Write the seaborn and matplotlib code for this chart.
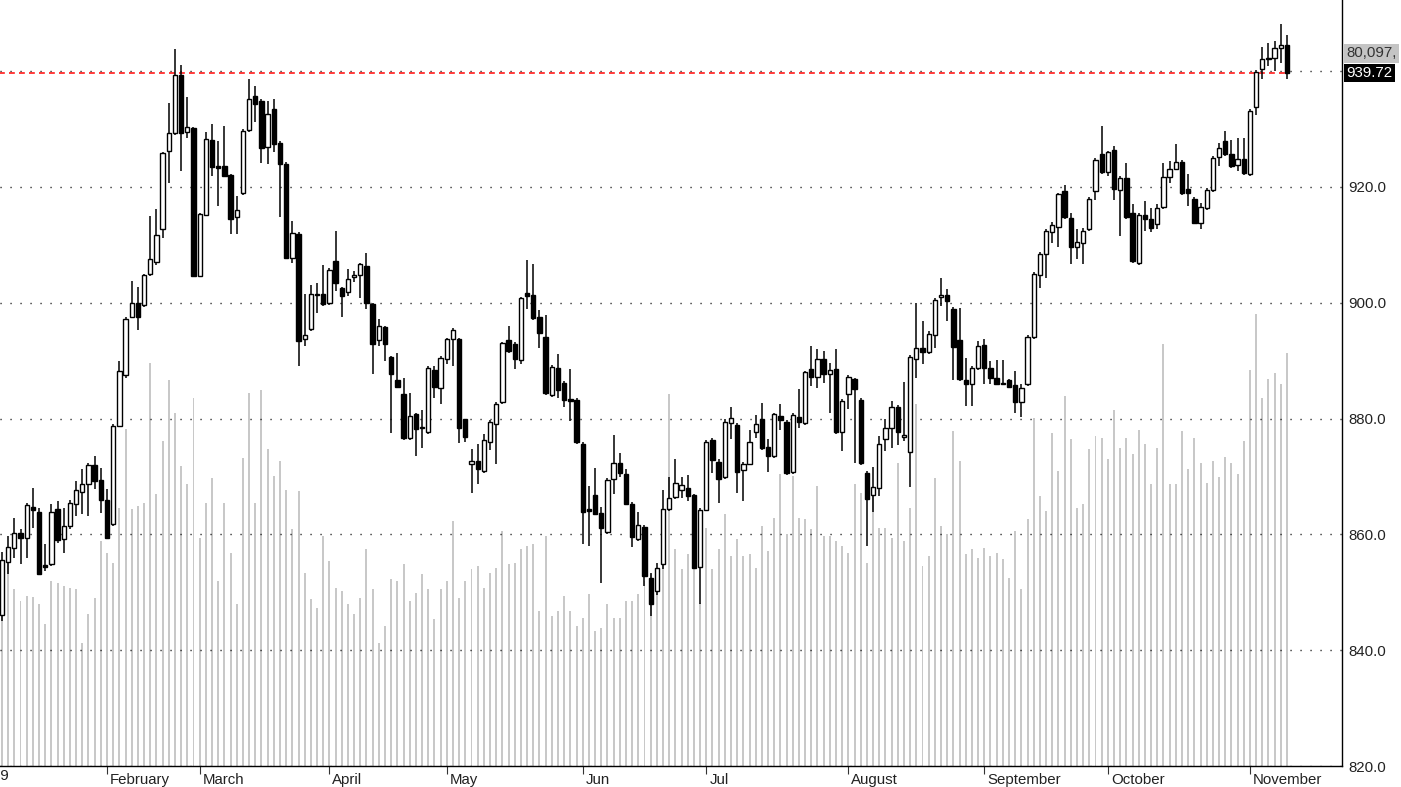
import numpy as np
import pandas as pd
import matplotlib
matplotlib.use("Agg")
import matplotlib.pyplot as plt
import matplotlib.transforms as mtransforms
import seaborn as sns

## daily prices
opens = [846.0, 855.2, 857.6, 860.2, 859.4, 864.7, 863.9, 854.7, 854.9, 864.4,
         859.2, 861.4, 865.3, 867.3, 868.7, 872.0, 869.4, 865.9, 861.8, 878.7,
         887.5, 897.6, 900.0, 899.6, 905.0, 907.0, 912.7, 926.2, 929.3, 939.3,
         929.5, 930.2, 904.6, 915.2, 928.1, 923.6, 923.6, 922.0, 914.8, 919.0,
         929.8, 935.7, 934.9, 926.9, 933.5, 927.6, 924.0, 907.7, 911.9, 893.7,
         895.5, 901.5, 901.5, 900.0, 907.2, 902.6, 901.9, 904.5, 904.8, 906.4,
         899.8, 893.6, 895.8, 890.6, 886.7, 884.2, 876.6, 880.8, 878.3, 877.7,
         888.4, 885.3, 890.3, 893.7, 893.7, 879.9, 872.2, 872.7, 870.9, 876.0,
         879.1, 882.9, 893.6, 892.9, 890.1, 901.7, 901.3, 897.5, 894.1, 884.1,
         888.7, 886.1, 883.4, 883.2, 875.6, 864.4, 866.8, 863.7, 860.4, 869.6,
         872.3, 870.4, 865.3, 859.2, 861.3, 852.5, 850.2, 854.9, 864.4, 866.5,
         867.7, 868.0, 866.8, 854.4, 864.2, 876.3, 872.5, 869.9, 879.2, 878.9,
         871.1, 872.2, 877.7, 879.9, 875.1, 873.5, 880.4, 879.4, 870.8, 880.3,
         879.2, 888.6, 887.2, 890.3, 887.7, 888.6, 877.7, 884.2, 886.8, 883.2,
         870.6, 866.8, 868.0, 876.5, 878.4, 882.0, 876.8, 874.2, 890.3, 892.2,
         891.5, 894.4, 901.0, 901.3, 898.9, 893.6, 886.7, 886.0, 888.7, 892.7,
         888.7, 887.0, 886.1, 886.7, 885.8, 882.9, 886.0, 894.1, 904.8, 908.4,
         912.2, 913.1, 919.3, 914.6, 909.6, 910.3, 912.7, 919.3, 925.7, 922.6,
         926.4, 919.5, 921.6, 915.5, 906.9, 915.2, 914.5, 913.6, 916.5, 921.7,
         923.1, 924.3, 919.7, 917.9, 913.8, 916.4, 919.5, 925.2, 928.0, 925.7,
         923.8, 924.8, 922.2, 933.8, 940.4, 942.1, 942.3, 944.0, 944.5]
highs = [857.0, 859.7, 862.8, 860.9, 865.5, 868.0, 864.5, 858.3, 865.3, 865.8,
         864.5, 866.0, 869.2, 871.3, 872.3, 873.5, 871.5, 867.8, 879.0, 890.0,
         897.5, 903.8, 902.7, 905.0, 915.0, 916.2, 926.0, 934.5, 943.8, 941.0,
         935.5, 930.4, 915.5, 929.5, 930.8, 928.0, 930.5, 922.3, 918.4, 930.0,
         938.7, 937.4, 935.2, 934.9, 935.2, 928.0, 924.3, 914.2, 912.2, 901.5,
         903.0, 903.4, 906.5, 906.0, 912.4, 902.8, 905.8, 905.5, 906.9, 908.6,
         900.0, 897.2, 896.0, 890.8, 891.3, 887.0, 884.4, 881.0, 881.5, 889.0,
         889.0, 890.8, 894.0, 895.6, 894.0, 880.0, 874.7, 875.6, 877.3, 879.7,
         882.8, 893.3, 896.0, 893.2, 901.0, 907.4, 906.7, 898.8, 897.9, 889.2,
         891.2, 886.5, 888.6, 883.6, 875.9, 868.4, 871.5, 864.7, 869.7, 877.2,
         874.0, 871.3, 865.6, 863.9, 861.6, 853.3, 855.0, 867.7, 869.9, 873.0,
         869.9, 870.3, 867.0, 864.5, 876.3, 876.6, 873.0, 880.0, 882.0, 879.2,
         872.5, 878.0, 880.6, 882.7, 876.5, 881.0, 882.5, 879.7, 880.9, 885.1,
         888.3, 892.5, 892.0, 891.7, 889.6, 892.0, 883.3, 887.5, 887.0, 883.5,
         870.9, 871.7, 877.0, 880.0, 883.0, 882.3, 886.3, 891.0, 900.0, 896.9,
         895.2, 900.8, 904.3, 902.4, 899.2, 899.1, 890.5, 889.0, 893.4, 893.7,
         890.0, 890.2, 890.2, 886.8, 888.2, 886.0, 894.4, 905.3, 908.7, 912.8,
         914.0, 919.0, 920.3, 915.5, 912.8, 913.0, 918.2, 925.0, 930.5, 926.3,
         927.1, 921.9, 924.1, 917.0, 915.5, 917.6, 916.4, 917.0, 924.1, 924.5,
         927.4, 924.6, 922.2, 918.2, 917.2, 919.8, 925.3, 927.6, 929.7, 928.1,
         928.5, 928.5, 933.4, 940.2, 944.2, 944.9, 945.2, 948.2, 946.2]
lows = [845.0, 853.2, 856.0, 854.9, 856.0, 861.1, 853.0, 853.7, 854.5, 858.5,
        856.8, 861.0, 863.2, 863.5, 863.2, 867.8, 863.7, 859.2, 861.5, 878.5,
        887.0, 897.3, 895.3, 899.3, 904.7, 906.5, 911.2, 920.7, 929.0, 922.8,
        928.5, 904.4, 904.4, 915.0, 921.9, 916.7, 921.7, 911.9, 911.9, 918.7,
        929.5, 931.2, 924.1, 924.0, 926.0, 914.8, 907.5, 906.9, 889.1, 892.5,
        895.2, 898.2, 899.5, 899.7, 902.0, 897.5, 901.2, 903.6, 900.8, 898.9,
        887.7, 892.5, 890.0, 877.5, 885.3, 876.3, 876.3, 873.5, 874.9, 877.4,
        883.6, 882.5, 889.4, 889.0, 875.8, 876.0, 867.1, 868.7, 870.6, 874.6,
        872.2, 882.6, 891.4, 888.6, 889.5, 899.0, 897.0, 892.2, 884.1, 883.8,
        883.6, 882.0, 879.6, 875.6, 858.3, 858.0, 863.3, 851.6, 860.1, 867.0,
        870.0, 865.0, 857.8, 858.9, 851.1, 845.9, 849.5, 854.0, 864.0, 866.2,
        866.3, 865.8, 854.0, 848.0, 864.0, 870.6, 865.4, 869.6, 876.5, 867.2,
        865.8, 871.9, 876.6, 874.6, 870.8, 873.2, 878.0, 870.3, 870.5, 878.4,
        878.9, 885.6, 885.3, 886.1, 881.0, 877.4, 874.4, 881.7, 872.3, 872.0,
        858.0, 863.9, 866.6, 874.4, 874.9, 875.4, 876.2, 868.2, 887.0, 889.4,
        891.2, 892.2, 899.5, 896.9, 886.7, 886.5, 882.2, 882.2, 888.4, 886.0,
        886.0, 885.8, 885.8, 885.2, 881.0, 880.2, 885.7, 893.8, 902.6, 904.3,
        910.3, 909.6, 914.5, 906.7, 907.5, 906.7, 912.4, 917.7, 922.3, 921.9,
        917.8, 911.5, 914.5, 906.9, 906.6, 912.4, 912.2, 912.7, 916.2, 920.7,
        923.0, 918.7, 916.7, 913.6, 912.7, 916.1, 919.2, 923.6, 925.4, 923.3,
        922.8, 922.1, 921.9, 932.4, 938.7, 940.9, 940.0, 941.5, 938.7]
closes = [855.5, 857.8, 860.2, 859.4, 865.1, 864.2, 853.2, 854.4, 863.9, 859.0,
          861.4, 865.4, 867.7, 868.7, 872.0, 869.2, 866.0, 859.4, 878.7, 888.2,
          897.2, 900.0, 897.6, 904.8, 907.6, 911.7, 925.9, 929.3, 939.3, 929.3,
          930.4, 904.6, 915.3, 928.3, 923.5, 923.3, 921.9, 914.5, 916.0, 929.7,
          935.2, 934.3, 926.7, 932.6, 927.4, 924.0, 907.7, 912.0, 893.4, 894.4,
          901.5, 901.3, 899.8, 905.7, 903.4, 901.2, 904.1, 904.8, 906.7, 900.0,
          892.9, 896.0, 892.9, 887.7, 885.5, 876.6, 880.4, 878.2, 878.5, 888.7,
          885.5, 890.5, 893.7, 895.3, 878.4, 876.8, 872.7, 871.3, 876.3, 879.4,
          882.5, 893.0, 891.7, 890.3, 900.8, 901.2, 897.4, 894.8, 884.4, 888.9,
          884.9, 883.2, 883.0, 876.0, 863.9, 864.0, 863.5, 861.1, 869.4, 872.3,
          870.6, 865.3, 859.6, 861.6, 852.8, 848.0, 854.2, 864.4, 866.3, 868.9,
          868.5, 866.6, 854.2, 864.2, 876.0, 872.8, 869.6, 879.4, 880.1, 870.8,
          872.2, 876.0, 879.1, 874.9, 873.5, 880.8, 879.8, 870.6, 880.6, 879.4,
          888.0, 887.2, 890.3, 887.7, 888.4, 877.7, 883.0, 887.2, 885.1, 872.3,
          866.1, 868.2, 875.6, 878.4, 882.0, 877.7, 877.1, 890.6, 892.2, 891.5,
          894.6, 900.5, 901.3, 900.3, 892.4, 886.8, 886.0, 888.7, 892.5, 888.7,
          887.0, 886.0, 885.9, 885.5, 882.9, 885.3, 894.1, 905.0, 908.4, 912.4,
          913.4, 918.8, 914.8, 909.6, 910.5, 912.4, 917.9, 924.7, 922.6, 926.0,
          919.7, 921.6, 914.8, 907.2, 915.2, 914.5, 913.0, 916.4, 921.7, 923.1,
          924.3, 919.0, 919.0, 913.8, 916.5, 919.5, 925.0, 926.7, 925.7, 923.6,
          924.8, 922.4, 933.1, 939.9, 942.1, 942.3, 944.0, 944.5, 939.72]

## volume in thousands
volume_k = [38.0,
            40.4, 34.3, 32.0, 33.0, 32.8, 31.4, 27.5, 35.9, 35.5, 34.9,
            34.5, 34.3, 23.9, 29.5, 32.6, 43.7, 41.3, 39.4, 50.1, 65.4,
            49.9, 50.4, 51.0, 78.2, 52.8, 63.1, 74.9, 68.5, 58.2, 54.7,
            71.4, 44.2, 51.0, 55.9, 35.9, 51.0, 41.3, 31.4, 59.8, 72.4,
            51.0, 72.9, 61.5, 56.3, 59.2, 53.5, 46.0, 53.4, 37.4, 32.4,
            30.7, 44.6, 39.8, 34.5, 34.0, 31.4, 29.5, 32.6, 42.1, 34.3,
            23.9, 27.2, 36.3, 35.9, 39.2, 32.0, 33.6, 37.2, 34.3, 28.5,
            34.3, 35.9, 47.5, 32.6, 35.9, 38.2, 38.8, 34.5, 37.4, 38.4,
            45.6, 39.2, 39.4, 42.1, 42.7, 43.1, 30.1, 44.6, 29.1, 30.1,
            33.0, 30.1, 27.2, 28.7, 33.4, 26.2, 26.8, 31.4, 28.7, 28.7,
            32.0, 32.0, 33.4, 35.9, 37.2, 38.4, 40.4, 72.2,
            42.0,
            38.2, 41.1, 39.8, 31.6, 46.2, 38.2, 42.1, 48.9, 40.7, 44.0,
            40.7, 41.1, 38.4, 46.6, 41.7, 48.1, 56.6, 45.0, 56.3, 48.1,
            47.9, 46.0, 54.3, 44.6, 44.6, 43.7, 42.7, 41.3, 54.7, 53.0,
            39.4, 52.4, 46.2, 46.2, 44.2, 58.8, 43.7, 50.1, 70.2, 38.8,
            40.7, 55.9, 46.6, 45.0, 65.0, 59.2, 41.1, 42.1, 40.4, 42.3,
            40.7, 41.3, 40.2, 36.5, 45.6, 34.3, 47.9, 67.5, 52.4, 49.5,
            64.6, 57.2, 71.8, 63.4, 50.1, 50.8, 61.5, 64.0, 63.6, 59.6,
            69.1, 61.7, 63.6, 60.5, 65.2, 62.5, 54.7, 61.7, 81.9, 54.7,
            54.7, 65.0, 57.6, 63.6, 58.8, 54.9, 59.2, 56.1, 59.9, 58.8,
            56.6, 63.1, 76.8, 87.7, 71.4, 75.1, 76.2, 74.1, 80.097]

month_pos = [17, 32, 53, 72, 94, 114, 137, 159, 179, 202]
month_names = ["February", "March", "April", "May", "Jun", "Jul", "August",
               "September", "October", "November"]
year_label = "2019"
price_ticks = [820, 840, 860, 880, 900, 920]
grid_levels = [820, 840, 860, 880, 900, 920, 940]
last_price = 939.72
last_volume = 80097

sns.set_style("white")
plt.rcParams['font.family'] = ['Liberation Sans', 'DejaVu Sans']

df = pd.DataFrame({"open": opens, "high": highs, "low": lows,
                   "close": closes, "volume": volume_k})
df["idx"] = np.arange(len(df))
n = len(df)

W, H = 1401, 787
fig = plt.figure(figsize=(W / 100, H / 100), dpi=100)
ax_vol = fig.add_axes([0, 21 / H, 1342 / W, 766 / H])

## volume bars behind the candles
sns.barplot(data=df, x="idx", y="volume", native_scale=True, width=0.32,
            color="#c8c8c8", saturation=1, errorbar=None, linewidth=0, ax=ax_vol)
ax_vol.set_ylim(0, 766 * 80.097 / 413)
ax_vol.set_xlabel("")
ax_vol.set_ylabel("")
ax_vol.set_yticks([])
for s in ["top", "left", "right"]:
    ax_vol.spines[s].set_visible(False)
ax_vol.spines["bottom"].set_color("black")
ax_vol.spines["bottom"].set_linewidth(1)

ax_px = ax_vol.twinx()
ax_px.set_ylim(820, 820 + 766 / 5.79)
for s in ["top", "left", "bottom"]:
    ax_px.spines[s].set_visible(False)
ax_px.spines["right"].set_color("black")
ax_px.spines["right"].set_linewidth(1)

## dotted grid
for lvl in grid_levels:
    ax_px.axhline(lvl, color="black", lw=1.0, linestyle=(0, (0.8, 6.4)), zorder=1)

## last price line
ax_px.hlines(last_price, -0.5, n - 1, color="#ff1a1a", lw=1.2,
             linestyles=(0, (3.5, 2.5)), zorder=1.5)

## candles
up = df["close"] >= df["open"]
body_lo = np.minimum(df["open"], df["close"])
body_h = np.maximum(np.abs(df["close"] - df["open"]), 0.15)
ax_px.vlines(df["idx"], df["low"], df["high"], color="black", lw=1.1, zorder=2)
ax_px.bar(df["idx"], body_h, bottom=body_lo, width=0.7,
          color=np.where(up, "white", "black"), edgecolor="black",
          linewidth=1.0, zorder=3)

ax_vol.set_xlim(-0.32, 216.9)

## axes labels
ax_px.set_yticks(price_ticks)
ax_px.set_yticklabels([f"{v:.1f}" for v in price_ticks])
ax_px.tick_params(axis="y", length=0, pad=4.5, labelsize=10.8, labelcolor="#222222")

ax_vol.set_xticks(month_pos)
ax_vol.set_xticklabels(month_names)
ax_vol.tick_params(axis="x", length=6, width=0.8, direction="out", pad=-1,
                   labelsize=10.8, labelcolor="#222222", color="#333333", bottom=True)
offset = mtransforms.ScaledTranslation(3 / 100, 0, fig.dpi_scale_trans)
for lab in ax_vol.get_xticklabels():
    lab.set_horizontalalignment("left")
    lab.set_transform(lab.get_transform() + offset)

fig.text(8.5 / W, 1 - 769 / H, year_label, ha="right", va="top",
         fontsize=10.8, color="#222222")

## value boxes on the right
ax_px.annotate(f"{last_price:.2f}", xy=(1, last_price),
               xycoords=ax_px.get_yaxis_transform(), xytext=(3, 0),
               textcoords="offset points", va="center", ha="left",
               fontsize=10.8, color="white", annotation_clip=False,
               bbox=dict(boxstyle="square,pad=0.15", fc="black", ec="none"))
ax_px.annotate(f"{last_volume:,},", xy=(1, last_price),
               xycoords=ax_px.get_yaxis_transform(), xytext=(3, 14),
               textcoords="offset points", va="center", ha="left",
               fontsize=10.8, color="#333333", annotation_clip=False,
               bbox=dict(boxstyle="square,pad=0.15", fc="#c4c4c4", ec="none"))

fig.savefig("out.png", dpi=100)
